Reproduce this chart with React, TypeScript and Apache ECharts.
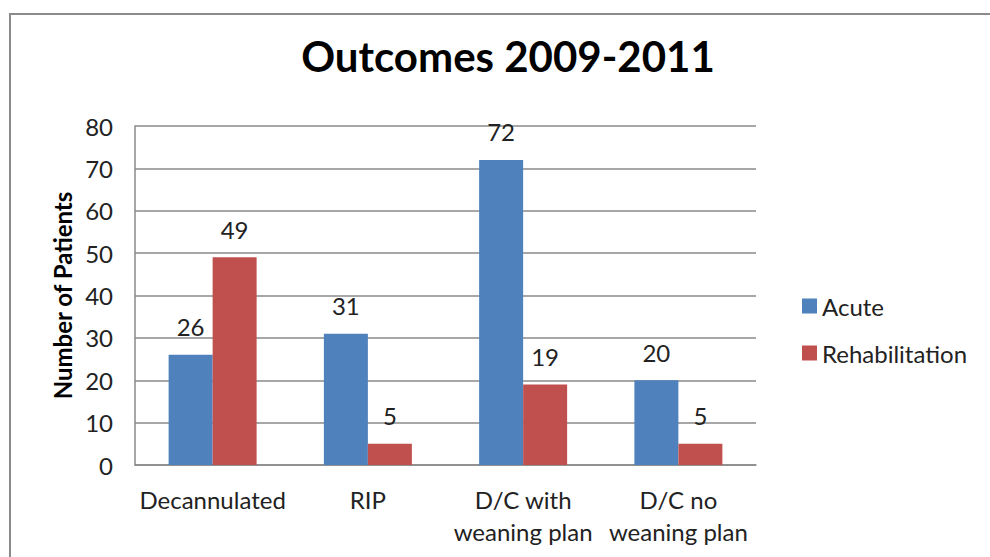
import React, { useEffect, useRef } from "react";
import * as echarts from "echarts";

const categories = ["Decannulated", "RIP", "D/C with\nweaning plan", "D/C no\nweaning plan"];
const acute = [26, 31, 72, 20];
const rehabilitation = [49, 5, 19, 5];
const seriesNames = ["Acute", "Rehabilitation"];

const FONT = "Lato, 'Open Sans', sans-serif";

export default function App() {
  const ref = useRef<HTMLDivElement>(null);

  useEffect(() => {
    if (!ref.current) return;
    const chart = echarts.init(ref.current, null, { renderer: "svg" });
    const labelStyle = {
      show: true,
      position: "top" as const,
      distance: 16,
      color: "#222",
      fontFamily: FONT,
      fontSize: 24,
    };
    chart.setOption({
      animation: false,
      backgroundColor: "#fff",
      title: {
        text: "Outcomes 2009-2011",
        left: 503,
        top: 30,
        textAlign: "center",
        textStyle: { fontFamily: FONT, fontWeight: "bold", fontSize: 42, color: "#000" },
      },
      graphic: [
        {
          type: "rect",
          shape: { x: 10, y: 14, width: 1100, height: 700 },
          style: { fill: "none", stroke: "#8a8a8a", lineWidth: 2 },
          silent: true,
        },
      ],
      legend: {
        data: seriesNames,
        orient: "vertical",
        left: 797,
        top: 289,
        itemWidth: 15,
        itemHeight: 15,
        itemGap: 23,
        icon: "rect",
        textStyle: { fontFamily: FONT, fontSize: 24, color: "#222" },
      },
      grid: { left: 135, right: 234, top: 126, bottom: 92 },
      xAxis: {
        type: "category",
        data: categories,
        axisLine: { show: true, lineStyle: { color: "#8a8a8a", width: 1.5 } },
        axisTick: { show: false },
        axisLabel: {
          fontFamily: FONT,
          fontSize: 24,
          color: "#222",
          margin: 18,
          lineHeight: 32,
          interval: 0,
        },
      },
      yAxis: {
        type: "value",
        min: 0,
        max: 80,
        interval: 10,
        name: "Number of Patients",
        nameLocation: "middle",
        nameGap: 61,
        nameTextStyle: { fontFamily: FONT, fontWeight: "bold", fontSize: 24, color: "#000" },
        axisLine: { show: true, lineStyle: { color: "#8a8a8a", width: 1.5 } },
        axisTick: { show: false },
        axisLabel: { fontFamily: FONT, fontSize: 24, color: "#222", margin: 22 },
        splitLine: { lineStyle: { color: "#8a8a8a", width: 1.5 } },
      },
      series: [
        {
          name: seriesNames[0],
          type: "bar",
          data: acute,
          barWidth: 44,
          barGap: "0%",
          itemStyle: { color: "#4F81BD" },
          label: labelStyle,
        },
        {
          name: seriesNames[1],
          type: "bar",
          data: rehabilitation,
          barWidth: 44,
          barGap: "0%",
          itemStyle: { color: "#C0504D" },
          label: labelStyle,
        },
      ],
    });
    return () => chart.dispose();
  }, []);

  return (
    <div
      ref={ref}
      style={{ position: "fixed", left: 0, top: 0, width: 990, height: 557 }}
    />
  );
}
